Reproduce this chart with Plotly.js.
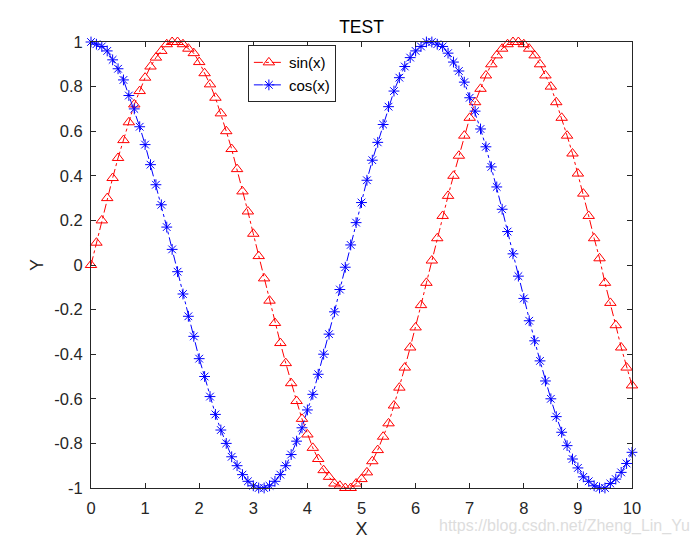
<!DOCTYPE html>
<html>
<head>
<meta charset="utf-8">
<script src="https://cdn.plot.ly/plotly-3.0.1.min.js"></script>
<style>
  body { margin: 0; background: #fff; }
  #plot { width: 700px; height: 547px; }
</style>
</head>
<body>
<div id="plot"></div>
<script>
// x values (0 to 10, one marker every 0.1)
let xVals = [0.0, 0.1, 0.2, 0.3, 0.4, 0.5, 0.6, 0.7, 0.8, 0.9,
  1.0, 1.1, 1.2, 1.3, 1.4, 1.5, 1.6, 1.7, 1.8, 1.9,
  2.0, 2.1, 2.2, 2.3, 2.4, 2.5, 2.6, 2.7, 2.8, 2.9,
  3.0, 3.1, 3.2, 3.3, 3.4, 3.5, 3.6, 3.7, 3.8, 3.9,
  4.0, 4.1, 4.2, 4.3, 4.4, 4.5, 4.6, 4.7, 4.8, 4.9,
  5.0, 5.1, 5.2, 5.3, 5.4, 5.5, 5.6, 5.7, 5.8, 5.9,
  6.0, 6.1, 6.2, 6.3, 6.4, 6.5, 6.6, 6.7, 6.8, 6.9,
  7.0, 7.1, 7.2, 7.3, 7.4, 7.5, 7.6, 7.7, 7.8, 7.9,
  8.0, 8.1, 8.2, 8.3, 8.4, 8.5, 8.6, 8.7, 8.8, 8.9,
  9.0, 9.1, 9.2, 9.3, 9.4, 9.5, 9.6, 9.7, 9.8, 9.9,
  10.0];

// red triangles
let sinVals = [0.00, 0.10, 0.20, 0.30, 0.39, 0.48, 0.56, 0.64, 0.72, 0.78,
  0.84, 0.89, 0.93, 0.96, 0.99, 1.00, 1.00, 0.99, 0.97, 0.95,
  0.91, 0.86, 0.81, 0.75, 0.68, 0.60, 0.52, 0.43, 0.33, 0.24,
  0.14, 0.04, -0.06, -0.16, -0.26, -0.35, -0.44, -0.53, -0.61, -0.69,
  -0.76, -0.82, -0.87, -0.92, -0.95, -0.98, -0.99, -1.00, -1.00, -0.98,
  -0.96, -0.93, -0.88, -0.83, -0.77, -0.71, -0.63, -0.55, -0.46, -0.37,
  -0.28, -0.18, -0.08, 0.02, 0.12, 0.22, 0.31, 0.40, 0.49, 0.58,
  0.66, 0.73, 0.79, 0.85, 0.90, 0.94, 0.97, 0.99, 1.00, 1.00,
  0.99, 0.97, 0.94, 0.90, 0.85, 0.80, 0.73, 0.66, 0.58, 0.50,
  0.41, 0.32, 0.22, 0.12, 0.03, -0.08, -0.17, -0.27, -0.37, -0.46,
  -0.54];

// blue asterisks
let cosVals = [1.00, 0.99, 0.98, 0.96, 0.92, 0.88, 0.83, 0.76, 0.70, 0.62,
  0.54, 0.45, 0.36, 0.27, 0.17, 0.07, -0.03, -0.13, -0.23, -0.32,
  -0.42, -0.50, -0.59, -0.67, -0.74, -0.80, -0.86, -0.90, -0.94, -0.97,
  -0.99, -1.00, -1.00, -0.99, -0.97, -0.94, -0.90, -0.85, -0.79, -0.73,
  -0.65, -0.58, -0.49, -0.40, -0.31, -0.21, -0.11, -0.01, 0.09, 0.19,
  0.28, 0.38, 0.47, 0.55, 0.63, 0.71, 0.78, 0.84, 0.89, 0.93,
  0.96, 0.98, 1.00, 1.00, 0.99, 0.98, 0.95, 0.91, 0.87, 0.82,
  0.75, 0.69, 0.61, 0.53, 0.44, 0.35, 0.25, 0.15, 0.05, -0.05,
  -0.15, -0.25, -0.34, -0.43, -0.52, -0.60, -0.68, -0.75, -0.81, -0.87,
  -0.91, -0.95, -0.97, -0.99, -1.00, -1.00, -0.98, -0.96, -0.93, -0.89,
  -0.84];

// tick labels
let xTicks = [0, 1, 2, 3, 4, 5, 6, 7, 8, 9, 10];
let yTicks = [-1, -0.8, -0.6, -0.4, -0.2, 0, 0.2, 0.4, 0.6, 0.8, 1];
let yTickText = ["-1", "-0.8", "-0.6", "-0.4", "-0.2", "0", "0.2", "0.4", "0.6", "0.8", "1"];

let axisColor = "#262626";

// sin trace
let trace1 = {
  x: xVals,
  y: sinVals,
  name: "sin(x)",
  type: "scatter",
  mode: "lines+markers",
  cliponaxis: false,
  line: { color: "#ff0000", width: 1, dash: "dashdot" },
  marker: { symbol: "triangle-up-open", size: 10, color: "#ff0000", line: { width: 1, color: "#ff0000" } }
};

// cos trace
let trace2 = {
  x: xVals,
  y: cosVals,
  name: "cos(x)",
  type: "scatter",
  mode: "lines+markers",
  cliponaxis: false,
  line: { color: "#0000ff", width: 1, dash: "dashdot" },
  marker: { symbol: "asterisk-open", size: 9, color: "#0000ff", line: { width: 1, color: "#0000ff" } }
};

let data = [trace1, trace2];

let layout = {
  width: 700,
  height: 547,
  paper_bgcolor: "#ffffff",
  plot_bgcolor: "#ffffff",
  font: { family: "Liberation Sans, Arial, sans-serif", size: 16, color: axisColor },
  margin: { l: 91, r: 68, t: 42, b: 59, pad: 0 },
  title: {
    text: "TEST",
    font: { size: 17.5, color: "#000000" },
    x: 0.5, xref: "paper",
    y: 1 - 27 / 547, yref: "container", yanchor: "middle"
  },
  showlegend: true,
  legend: {
    x: 0.29, y: 0.993, xanchor: "left", yanchor: "top",
    bgcolor: "#ffffff",
    bordercolor: axisColor,
    borderwidth: 1,
    font: { size: 15, color: "#000000" },
    tracegroupgap: 0
  },
  xaxis: {
    range: [0, 10],
    tickvals: xTicks,
    ticks: "inside",
    ticklen: 5,
    tickcolor: axisColor,
    showline: true,
    linecolor: axisColor,
    linewidth: 1,
    mirror: "ticks",
    showgrid: false,
    zeroline: false,
    ticklabelstandoff: 5,
    tickfont: { size: 16.5 },
    title: { text: "X", font: { size: 18 }, standoff: 6 }
  },
  yaxis: {
    range: [-1, 1],
    tickvals: yTicks,
    ticktext: yTickText,
    ticks: "inside",
    ticklen: 5,
    tickcolor: axisColor,
    showline: true,
    linecolor: axisColor,
    linewidth: 1,
    mirror: "ticks",
    showgrid: false,
    zeroline: false,
    ticklabelstandoff: 4,
    tickfont: { size: 16.5 },
    title: { text: "Y", font: { size: 18 }, standoff: 5 }
  },
  annotations: [{
    text: "https://blog.csdn.net/Zheng_Lin_Yu",
    xref: "paper", yref: "paper",
    x: 1.11, y: -0.085,
    xanchor: "right", yanchor: "middle",
    showarrow: false,
    font: { size: 16, color: "#dddddd" }
  }]
};

Plotly.newPlot("plot", data, layout, { displayModeBar: false });
</script>
</body>
</html>
